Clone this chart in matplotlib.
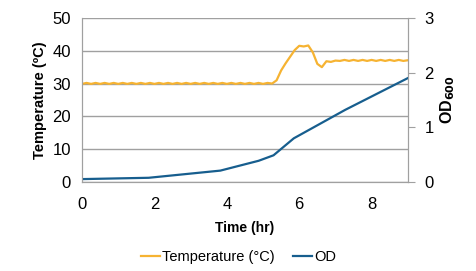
import matplotlib.pyplot as plt
from matplotlib.lines import Line2D

plt.rcParams['font.family'] = ['Liberation Sans', 'DejaVu Sans']

# temperature log (hr, degC)
temp_time = [0.0, 0.125, 0.25, 0.375, 0.5, 0.625, 0.75, 0.875, 1.0, 1.125, 1.25, 1.375,
             1.5, 1.625, 1.75, 1.875, 2.0, 2.125, 2.25, 2.375, 2.5, 2.625, 2.75, 2.875,
             3.0, 3.125, 3.25, 3.375, 3.5, 3.625, 3.75, 3.875, 4.0, 4.125, 4.25, 4.375,
             4.5, 4.625, 4.75, 4.875, 5.0, 5.125, 5.25, 5.375, 5.5, 5.625, 5.75, 5.875,
             6.0, 6.125, 6.25, 6.375, 6.5, 6.625, 6.75, 6.875, 7.0, 7.125, 7.25, 7.375,
             7.5, 7.625, 7.75, 7.875, 8.0, 8.125, 8.25, 8.375, 8.5, 8.625, 8.75, 8.875, 9.0]
temp = [29.9, 30.2, 29.9, 30.2, 29.9, 30.2, 29.9, 30.2, 29.9, 30.2, 29.9, 30.2,
        29.9, 30.2, 29.9, 30.2, 29.9, 30.2, 29.9, 30.2, 29.9, 30.2, 29.9, 30.2,
        29.9, 30.2, 29.9, 30.2, 29.9, 30.2, 29.9, 30.2, 29.9, 30.2, 29.9, 30.2,
        29.9, 30.2, 29.9, 30.2, 29.9, 30.2, 30.0, 31.0, 34.0, 36.2, 38.2, 40.2,
        41.5, 41.3, 41.6, 39.5, 36.0, 35.0, 36.8, 36.6, 37.0, 36.9, 37.2, 36.9,
        37.2, 36.9, 37.2, 36.9, 37.2, 36.9, 37.2, 36.9, 37.2, 36.9, 37.2, 36.9, 37.1]

# OD600 samples
od_time = [0.0, 1.84, 3.82, 4.88, 5.29, 5.85, 7.27, 9.0]
od = [0.055, 0.079, 0.21, 0.39, 0.49, 0.80, 1.32, 1.90]

orange = '#F6B332'
blue = '#175E8E'
grey = '#A0A0A0'

fig = plt.figure(figsize=(4.77, 2.71), dpi=100)
ax = fig.add_axes([0.172, 0.328, 0.683, 0.606])
ax2 = ax.twinx()

ax.plot(temp_time, temp, color=orange, lw=1.6)
ax2.plot(od_time, od, color=blue, lw=1.6)

ax.set_xlim(0, 9)
ax.set_ylim(0, 50)
ax2.set_ylim(0, 3)
ax.set_xticks([0, 2, 4, 6, 8])
ax.set_yticks([0, 10, 20, 30, 40, 50])
ax2.set_yticks([0, 1, 2, 3])

ax.grid(axis='y', color=grey, lw=1)
ax.set_axisbelow(True)
for a in (ax, ax2):
    for s in a.spines.values():
        s.set_color(grey)
    a.spines['top'].set_visible(False)
ax.tick_params(axis='x', length=0, labelsize=12, pad=11)
ax.tick_params(axis='y', length=0, labelsize=12, pad=8)
ax2.tick_params(axis='y', length=5, color=grey, labelsize=12, pad=7)

ax.set_xlabel('Time (hr)', fontweight='bold', fontsize=10, labelpad=6)
ax.set_ylabel('Temperature (ºC)', fontweight='bold', fontsize=10.5, labelpad=4)
ax2.set_ylabel('OD$_{\\mathbf{600}}$', fontweight='bold', fontsize=11.5, labelpad=3)

handles = [Line2D([], [], color=orange, lw=1.6), Line2D([], [], color=blue, lw=1.6)]
fig.legend(handles, ['Temperature (°C)', 'OD'], loc='center', bbox_to_anchor=(0.5, 0.05),
           ncol=2, frameon=False, fontsize=10.5, handlelength=1.3, handletextpad=0.2,
           columnspacing=1.2)

fig.savefig('out.png', dpi=100)
